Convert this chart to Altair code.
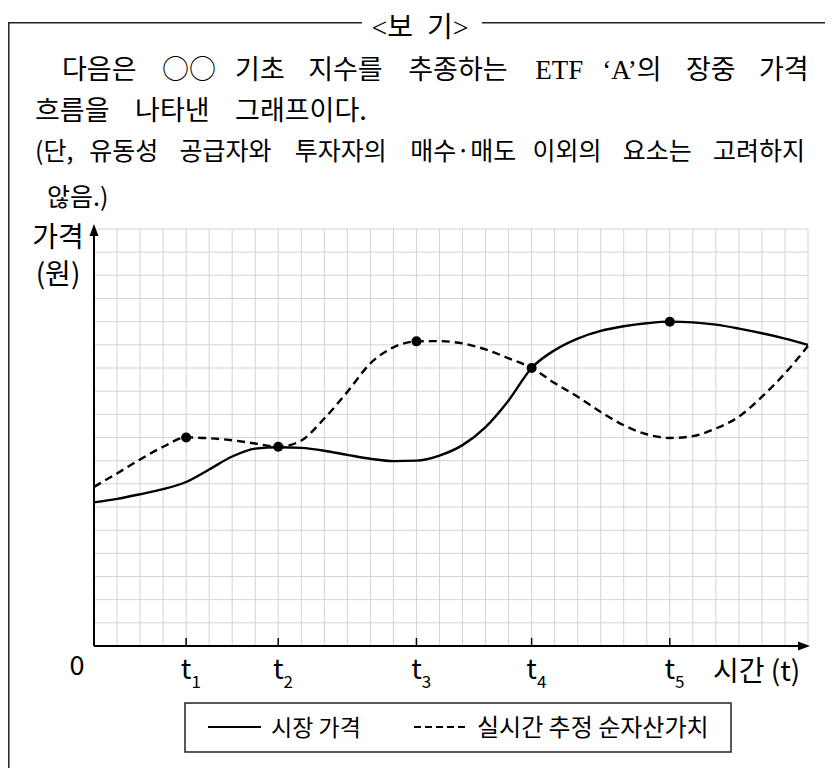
import altair as alt
import pandas as pd

# ---------------- data (grid units: x = cells from origin, y = cells above x-axis)
x_cells = list(range(32))
market_price = [6.2, 6.35, 6.55, 6.77, 7.08, 7.62, 8.18, 8.52, 8.58, 8.55, 8.43, 8.25,
                8.08, 7.98, 8.0, 8.22, 8.67, 9.45, 10.6, 12.0, 12.77, 13.27, 13.6, 13.8,
                13.93, 14.0, 13.97, 13.87, 13.7, 13.5, 13.27, 13.0]
nav_estimate = [6.87, 7.45, 8.05, 8.6, 9.0, 8.97, 8.88, 8.74, 8.6, 8.87, 9.82, 10.97,
                12.2, 12.89, 13.15, 13.16, 13.06, 12.8, 12.42, 12.0, 11.35, 10.76, 10.1, 9.53,
                9.14, 8.98, 9.06, 9.39, 9.9, 10.76, 11.77, 12.95]
point_x = [4, 8, 14, 19, 25]
point_y = [9.0, 8.6, 13.15, 12.0, 14.0]
t_positions = [4, 8, 14, 19, 25]
t_subscripts = ["1", "2", "3", "4", "5"]
grid_x = list(range(32))
grid_y = list(range(19))

header_title = "<보\u2002기>"
line1_words = ["다음은", "○○", "기초", "지수를", "추종하는", "ETF", "‘A’의", "장중", "가격"]
line2_words = ["흐름을", "나타낸", "그래프이다."]
line3_words = ["(단,", "유동성", "공급자와", "투자자의", "매수·매도", "이외의", "요소는", "고려하지"]
line4 = "않음.)"
y_title = ["가격", "(원)"]
x_title = "시간 (t)"
origin_label = "0"
legend_labels = ["시장 가격", "실시간 추정 순자산가치"]

# ---------------- layout constants
W, H = 714, 417
OX, OY = 94, 229          # page position of the plot origin (top-left of plot area)
SANS = "Noto Sans CJK KR"
SERIF = "'Liberation Serif', 'Noto Sans CJK KR'"
GRID = "#d3d3d3"
one = pd.DataFrame({"k": [0]})

xscale = alt.Scale(domain=[0, 31], nice=False, zero=False)
yscale = alt.Scale(domain=[0, 18], nice=False, zero=False)


def X(field="x:Q"):
    return alt.X(field, scale=xscale, axis=None)


def Y(field="y:Q"):
    return alt.Y(field, scale=yscale, axis=None)


df_m = pd.DataFrame({"x": x_cells, "y": market_price})
df_n = pd.DataFrame({"x": x_cells, "y": nav_estimate})
df_p = pd.DataFrame({"x": point_x, "y": point_y})
df_t = pd.DataFrame({"x": t_positions, "sub": t_subscripts})

vgrid = alt.Chart(pd.DataFrame({"x": grid_x})).mark_rule(color=GRID, strokeWidth=1).encode(
    x=X(), y=alt.value(0), y2=alt.value(H))
hgrid = alt.Chart(pd.DataFrame({"y": grid_y})).mark_rule(color=GRID, strokeWidth=1).encode(
    y=Y(), x=alt.value(0), x2=alt.value(W))

solid = alt.Chart(df_m).mark_line(color="black", strokeWidth=2.4, interpolate="monotone").encode(
    x=X(), y=Y())
dashed = alt.Chart(df_n).mark_line(color="black", strokeWidth=2.4, strokeDash=[8, 5],
                                   interpolate="monotone").encode(x=X(), y=Y())
points = alt.Chart(df_p).mark_point(filled=True, color="black", size=100, opacity=1).encode(
    x=X(), y=Y())

# axes with arrows
x_axis_line = alt.Chart(one).mark_rule(color="black", strokeWidth=2).encode(
    x=alt.value(0), x2=alt.value(710), y=alt.value(H))
y_axis_line = alt.Chart(one).mark_rule(color="black", strokeWidth=2).encode(
    x=alt.value(0), y=alt.value(H), y2=alt.value(2))
x_arrow = alt.Chart(one).mark_point(shape="M1,0L-1,-0.75L-1,0.75Z", filled=True, color="black",
                                    size=144, opacity=1).encode(x=alt.value(710), y=alt.value(H))
y_arrow = alt.Chart(one).mark_point(shape="M0,-1L0.75,1L-0.75,1Z", filled=True, color="black",
                                    size=144, opacity=1).encode(x=alt.value(0), y=alt.value(1))
ticks = alt.Chart(df_t).mark_rule(color="black", strokeWidth=1.5).encode(
    x=X(), y=alt.value(H - 8), y2=alt.value(H))
t_main = alt.Chart(df_t).mark_text(text="t", font=SANS, fontSize=28, baseline="middle",
                                   align="center", color="black").encode(x=X(), y=alt.value(442))
t_sub = alt.Chart(df_t).mark_text(font=SANS, fontSize=17, baseline="middle", align="center",
                                  dx=10, color="black").encode(
    x=X(), y=alt.value(454), text="sub:N")


def label(txt, x, y, size, align="left", font=SANS):
    """x, y given in page pixels."""
    return alt.Chart(one).mark_text(font=font, fontSize=size, baseline="middle", align=align,
                                    color="black").encode(
        x=alt.value(x - OX), y=alt.value(y - OY), text=alt.value(txt))


LATIN_W = {"ETF": 1.78, "‘A’의": 2.39}   # em widths of the serif words


def word_width(w, fs):
    if w in LATIN_W:
        return LATIN_W[w] * fs
    return sum(0.28 * fs if ch in "(),.·" else fs for ch in w)


def justified(words, left, right, y, fs, gap=None):
    widths = [word_width(w, fs) for w in words]
    if gap is None:
        gap = (right - left - sum(widths)) / (len(words) - 1)
    out, x = [], left
    for w, wd in zip(words, widths):
        out.append(label(w, x, y, fs, "left", SERIF if w in LATIN_W else SANS))
        x += wd + gap
    return out, gap


row1, g1 = justified(line1_words, 62, 813, 71, 27)
row2, _ = justified(line2_words, 35, None, 112, 27, gap=g1)
row3, _ = justified(line3_words, 35, 813, 152, 25)

texts = [
    label(origin_label, 77, 667, 27, "center"),
    label(x_title, 713, 673, 28),
    label(y_title[0], 58, 239, 28, "center"),
    label(y_title[1], 58, 276, 28, "center"),
    label(header_title, 420, 29, 28, "center", SERIF),
    *row1, *row2, *row3,
    label(line4, 47, 198, 25),
    label(legend_labels[0], 271, 729, 23),
    label(legend_labels[1], 477, 729, 24),
]

# frame of the <보 기> box
frame_col = "#222222"
frame = [
    alt.Chart(one).mark_rule(color=frame_col, strokeWidth=1.5).encode(
        x=alt.value(-85.2), x2=alt.value(268), y=alt.value(-206.3)),
    alt.Chart(one).mark_rule(color=frame_col, strokeWidth=1.5).encode(
        x=alt.value(388), x2=alt.value(731), y=alt.value(-206.3)),
    alt.Chart(one).mark_rule(color=frame_col, strokeWidth=1.5).encode(
        x=alt.value(-85.2), y=alt.value(-207), y2=alt.value(540)),
]

# legend
legend = [
    alt.Chart(one).mark_rect(fillOpacity=0, stroke="#222222", strokeWidth=1.5).encode(
        x=alt.value(91), x2=alt.value(637), y=alt.value(474), y2=alt.value(523)),
    alt.Chart(one).mark_rule(color="black", strokeWidth=2).encode(
        x=alt.value(114), x2=alt.value(167), y=alt.value(498)),
    alt.Chart(one).mark_rule(color="black", strokeWidth=2, strokeDash=[7, 4]).encode(
        x=alt.value(320), x2=alt.value(374), y=alt.value(498)),
]

chart = alt.layer(
    vgrid, hgrid, solid, dashed, points, x_axis_line, y_axis_line, x_arrow, y_arrow, ticks,
    t_main, t_sub, *texts, *frame, *legend
).properties(
    width=W, height=H,
    padding={"left": 86, "top": 221, "right": 17, "bottom": 122},
    autosize=alt.AutoSizeParams(type="none"),
    background="white",
).configure_view(strokeWidth=0)

chart.save("out.html", embed_options={"renderer": "svg", "actions": False})
